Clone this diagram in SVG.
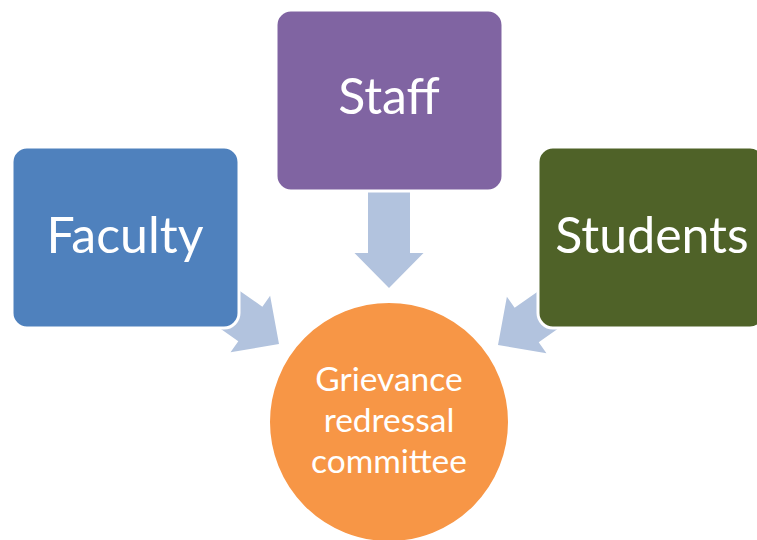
<svg xmlns="http://www.w3.org/2000/svg" xmlns:xlink="http://www.w3.org/1999/xlink" width="757" height="540" viewBox="0 0 757 540">
<style>
.box{stroke:#fff;stroke-width:3}
.big{font-family:Lato,"Open Sans",sans-serif;fill:#fff;text-anchor:middle;font-size:50px}
.small{font-family:Lato,"Open Sans",sans-serif;fill:#fff;text-anchor:middle;font-size:33.5px}
.arr{fill:#B2C3DE}
</style>
<defs>
<polygon id="arrow" class="arr" points="0,0 -34.5,-35 -21,-35 -21,-110 21,-110 21,-35 34.5,-35"/>
</defs>
<rect width="757" height="540" fill="#fff"/>
<g id="connectors">
<use xlink:href="#arrow" href="#arrow" transform="translate(389,288)"/>
<use xlink:href="#arrow" href="#arrow" transform="translate(279,344) rotate(-55)"/>
<use xlink:href="#arrow" href="#arrow" transform="translate(498,345) rotate(55)"/>
</g>
<g id="faculty">
<rect class="box" x="12" y="147" width="227" height="181" rx="15" fill="#4F81BD"/>
<text class="big" x="125" y="253">Faculty</text>
</g>
<g id="staff">
<rect class="box" x="276" y="10" width="227" height="181" rx="15" fill="#8064A2"/>
<text class="big" x="389" y="114">Staff</text>
</g>
<g id="students">
<rect class="box" x="538" y="147" width="227" height="181" rx="15" fill="#4F6228"/>
<text class="big" x="652" y="253">Students</text>
</g>
<g id="committee">
<circle cx="389" cy="422" r="120" fill="#F79646" stroke="#fff" stroke-width="2"/>
<text class="small" x="389" y="391">Grievance</text>
<text class="small" x="389" y="432">redressal</text>
<text class="small" x="389" y="473">committee</text>
</g>
</svg>
